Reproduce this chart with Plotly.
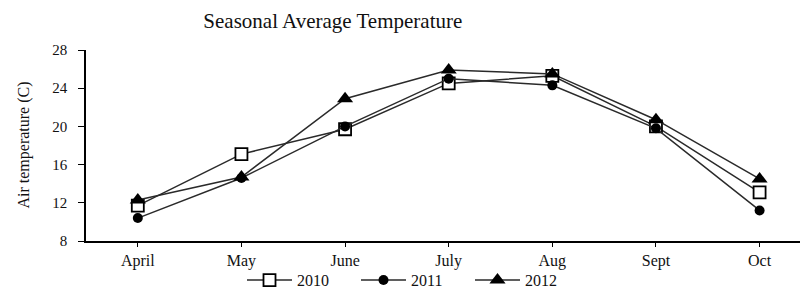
import plotly.graph_objects as go

months = ["April", "May", "June", "July", "Aug", "Sept", "Oct"]
t2010 = [11.7, 17.1, 19.7, 24.5, 25.3, 20.0, 13.1]
t2011 = [10.4, 14.6, 20.0, 25.0, 24.3, 19.8, 11.2]
t2012 = [12.3, 14.7, 22.9, 25.9, 25.5, 20.7, 14.5]
y_ticks = [8, 12, 16, 20, 24, 28]

FONT = "Liberation Serif"
LINE = "#2a2a2a"

fig = go.Figure()
fig.add_trace(go.Scatter(x=months, y=t2010, name="2010", mode="lines+markers",
                         line=dict(color=LINE, width=1.5),
                         marker=dict(symbol="square", size=12, color="white",
                                     line=dict(color="black", width=1.8))))
fig.add_trace(go.Scatter(x=months, y=t2011, name="2011", mode="lines+markers",
                         line=dict(color=LINE, width=1.5),
                         marker=dict(symbol="circle", size=10, color="black")))
fig.add_trace(go.Scatter(x=months, y=t2012, name="2012", mode="lines+markers",
                         line=dict(color=LINE, width=1.5),
                         marker=dict(symbol="triangle-up", size=14, color="black")))

fig.update_layout(
    width=802, height=288,
    margin=dict(l=86, r=2, t=50, b=47, autoexpand=False),
    plot_bgcolor="white", paper_bgcolor="white",
    font=dict(family=FONT, size=14, color="#111"),
    title=dict(text="Seasonal Average Temperature", x=0.415, xref="container",
               xanchor="center", y=0.93, yref="container", yanchor="middle",
               font=dict(family=FONT, size=21, color="#111")),
    showlegend=True,
    legend=dict(orientation="h", x=(242 - 86) / 714, xanchor="left", y=-0.205, yanchor="middle",
                font=dict(family=FONT, size=16), itemwidth=45,
                entrywidth=54, entrywidthmode="pixels",
                tracegroupgap=0, bgcolor="rgba(0,0,0,0)"),
    xaxis=dict(type="category", range=[-0.5, 6.39], showgrid=False,
               showline=True, linecolor="black", linewidth=1.5,
               ticks="outside", ticklen=4, tickcolor="black",
               tickfont=dict(family=FONT, size=16)),
    yaxis=dict(range=[8, 28], tickvals=y_ticks, showgrid=False, zeroline=False,
               showline=True, linecolor="black", linewidth=1.5,
               ticks="outside", ticklen=6, tickcolor="black", ticklabelstandoff=8,
               tickfont=dict(family=FONT, size=15)),
    annotations=[dict(text="Air temperature (C)", textangle=-90, x=(12 - 86) / 714,
                      xref="paper", y=0.5, yref="paper", showarrow=False,
                      font=dict(family=FONT, size=16, color="#111"))],
)
fig.write_html("out.html", config={"displayModeBar": False},
               post_script="document.body.style.margin='0';")
